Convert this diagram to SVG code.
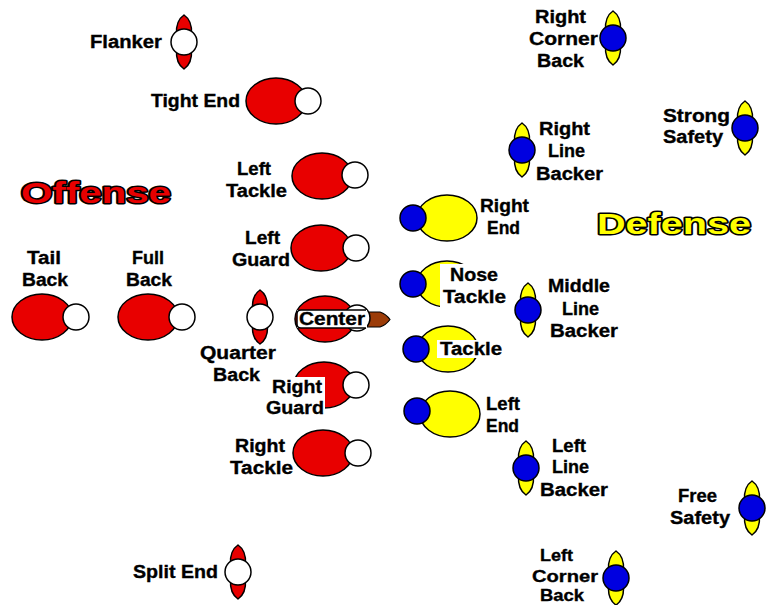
<svg xmlns="http://www.w3.org/2000/svg" xmlns:xlink="http://www.w3.org/1999/xlink" width="766" height="605" viewBox="0 0 766 605">
<style>
text{font-family:"Liberation Sans",Arial,sans-serif;font-weight:bold;font-size:18px;fill:#000;stroke:#000;stroke-width:0.35}
.t{font-size:30px;font-weight:900;stroke:#000;stroke-width:3;paint-order:stroke;stroke-linejoin:round}
.ro{fill:#e80000;stroke:#000;stroke-width:1.5}
.wc{fill:#fff;stroke:#000;stroke-width:1.5}
.yo{fill:#ffff00;stroke:#000;stroke-width:1.5}
.bc{fill:#0000e0;stroke:#000;stroke-width:1.5}
.lb{fill:#fff}
</style>
<defs>
<g id="ov">
<path class="ro" d="M0,-27 C6,-23 8,-17 7.5,-8 L-7.5,-8 C-8,-17 -6,-23 0,-27 Z"/>
<path class="ro" d="M0,27 C6,23 8,17 7.5,8 L-7.5,8 C-8,17 -6,23 0,27 Z"/>
<circle class="wc" r="13"/>
</g>
<g id="dv">
<path class="yo" d="M0,-27 C6,-23 8,-17 7.5,-8 L-7.5,-8 C-8,-17 -6,-23 0,-27 Z"/>
<path class="yo" d="M0,27 C6,23 8,17 7.5,8 L-7.5,8 C-8,17 -6,23 0,27 Z"/>
<circle class="bc" r="13"/>
</g>
</defs>
<rect width="766" height="605" fill="#fff"/>

<text class="t" x="21" y="203" textLength="150" lengthAdjust="spacingAndGlyphs" style="fill:#e80000">Offense</text>
<text class="t" x="597" y="234" textLength="154" lengthAdjust="spacingAndGlyphs" style="fill:#ffff00">Defense</text>

<g id="connectors"/>

<g id="flanker"><use xlink:href="#ov" x="184" y="42"/><text x="90" y="48" textLength="72" lengthAdjust="spacingAndGlyphs">Flanker</text></g>
<g id="tight-end"><ellipse class="ro" cx="276" cy="101" rx="30" ry="23"/><circle class="wc" cx="308" cy="101" r="13"/><text x="151" y="107" textLength="89" lengthAdjust="spacingAndGlyphs">Tight End</text></g>
<g id="left-tackle"><ellipse class="ro" cx="322" cy="176" rx="30" ry="23"/><circle class="wc" cx="355" cy="175" r="13"/><text x="237" y="175" textLength="34" lengthAdjust="spacingAndGlyphs">Left</text><text x="226" y="197" textLength="61" lengthAdjust="spacingAndGlyphs">Tackle</text></g>
<g id="left-guard"><ellipse class="ro" cx="321" cy="248" rx="30" ry="23"/><circle class="wc" cx="356" cy="248" r="13"/><text x="245" y="244" textLength="35" lengthAdjust="spacingAndGlyphs">Left</text><text x="232" y="266" textLength="58" lengthAdjust="spacingAndGlyphs">Guard</text></g>
<g id="tail-back"><ellipse class="ro" cx="42" cy="317" rx="30" ry="23"/><circle class="wc" cx="76" cy="317" r="13"/><text x="27" y="264" textLength="34" lengthAdjust="spacingAndGlyphs">Tail</text><text x="22" y="286" textLength="46" lengthAdjust="spacingAndGlyphs">Back</text></g>
<g id="full-back"><ellipse class="ro" cx="148" cy="317" rx="30" ry="23"/><circle class="wc" cx="182" cy="317" r="13"/><text x="132" y="264" textLength="32" lengthAdjust="spacingAndGlyphs">Full</text><text x="126" y="286" textLength="46" lengthAdjust="spacingAndGlyphs">Back</text></g>
<g id="quarter-back"><use xlink:href="#ov" x="260" y="317"/><text x="200" y="359" textLength="76" lengthAdjust="spacingAndGlyphs">Quarter</text><text x="213" y="381" textLength="47" lengthAdjust="spacingAndGlyphs">Back</text></g>
<g id="center"><ellipse class="ro" cx="325" cy="319" rx="30" ry="23"/><path d="M366,312 L380,312 Q386,314 390,319.5 Q386,325 380,327 L366,327 Z" fill="#9c3c08" stroke="#000" stroke-width="1.2"/><circle class="wc" cx="357" cy="318" r="13"/><rect class="lb" x="297" y="310" width="70" height="18"/><path d="M366,310 L301,310 Q297,310 297,314 L297,324 Q297,328 301,328 L366,328" fill="none" stroke="#000" stroke-width="1.5"/><text x="299" y="325" textLength="66" lengthAdjust="spacingAndGlyphs">Center</text></g>
<g id="right-guard"><ellipse class="ro" cx="324" cy="385" rx="30" ry="23"/><circle class="wc" cx="356" cy="385" r="13"/><rect class="lb" x="268" y="377" width="57" height="36"/><text x="272" y="393" textLength="50" lengthAdjust="spacingAndGlyphs">Right</text><text x="266" y="414" textLength="58" lengthAdjust="spacingAndGlyphs">Guard</text></g>
<g id="right-tackle"><ellipse class="ro" cx="323" cy="453" rx="30" ry="23"/><circle class="wc" cx="358" cy="453" r="13"/><text x="235" y="452" textLength="50" lengthAdjust="spacingAndGlyphs">Right</text><text x="230" y="474" textLength="63" lengthAdjust="spacingAndGlyphs">Tackle</text></g>
<g id="split-end"><use xlink:href="#ov" x="238" y="572"/><text x="133" y="578" textLength="85" lengthAdjust="spacingAndGlyphs">Split End</text></g>

<g id="right-corner-back"><use xlink:href="#dv" x="613" y="38"/><text x="535" y="23" textLength="51" lengthAdjust="spacingAndGlyphs">Right</text><text x="529" y="45" textLength="69" lengthAdjust="spacingAndGlyphs">Corner</text><text x="537" y="67" textLength="47" lengthAdjust="spacingAndGlyphs">Back</text></g>
<g id="strong-safety"><use xlink:href="#dv" x="745" y="128"/><text x="663" y="122" textLength="67" lengthAdjust="spacingAndGlyphs">Strong</text><text x="663" y="143" textLength="60" lengthAdjust="spacingAndGlyphs">Safety</text></g>
<g id="right-line-backer"><use xlink:href="#dv" x="522" y="150"/><text x="539" y="135" textLength="51" lengthAdjust="spacingAndGlyphs">Right</text><text x="548" y="157" textLength="37" lengthAdjust="spacingAndGlyphs">Line</text><text x="536" y="180" textLength="67" lengthAdjust="spacingAndGlyphs">Backer</text></g>
<g id="right-end"><ellipse class="yo" cx="447" cy="218" rx="30" ry="23"/><circle class="bc" cx="413" cy="218" r="13"/><text x="480" y="212" textLength="49" lengthAdjust="spacingAndGlyphs">Right</text><text x="487" y="234" textLength="33" lengthAdjust="spacingAndGlyphs">End</text></g>
<g id="nose-tackle"><ellipse class="yo" cx="447" cy="284" rx="30" ry="23"/><circle class="bc" cx="413" cy="284" r="13"/><rect class="lb" x="440" y="264" width="68" height="45"/><text x="450" y="281" textLength="48" lengthAdjust="spacingAndGlyphs">Nose</text><text x="443" y="303" textLength="63" lengthAdjust="spacingAndGlyphs">Tackle</text></g>
<g id="tackle"><ellipse class="yo" cx="448" cy="349" rx="30" ry="23"/><circle class="bc" cx="416" cy="349" r="13"/><rect class="lb" x="437" y="340" width="65" height="18"/><text x="440" y="355" textLength="62" lengthAdjust="spacingAndGlyphs">Tackle</text></g>
<g id="middle-line-backer"><use xlink:href="#dv" x="528" y="310"/><text x="548" y="292" textLength="62" lengthAdjust="spacingAndGlyphs">Middle</text><text x="562" y="315" textLength="37" lengthAdjust="spacingAndGlyphs">Line</text><text x="550" y="337" textLength="68" lengthAdjust="spacingAndGlyphs">Backer</text></g>
<g id="left-end"><ellipse class="yo" cx="450" cy="414" rx="30" ry="23"/><circle class="bc" cx="417" cy="411" r="13"/><text x="486" y="410" textLength="34" lengthAdjust="spacingAndGlyphs">Left</text><text x="486" y="432" textLength="33" lengthAdjust="spacingAndGlyphs">End</text></g>
<g id="left-line-backer"><use xlink:href="#dv" x="526" y="468"/><text x="552" y="452" textLength="34" lengthAdjust="spacingAndGlyphs">Left</text><text x="552" y="473" textLength="37" lengthAdjust="spacingAndGlyphs">Line</text><text x="540" y="496" textLength="68" lengthAdjust="spacingAndGlyphs">Backer</text></g>
<g id="free-safety"><use xlink:href="#dv" x="752" y="508"/><text x="678" y="502" textLength="39" lengthAdjust="spacingAndGlyphs">Free</text><text x="670" y="524" textLength="60" lengthAdjust="spacingAndGlyphs">Safety</text></g>
<g id="left-corner-back"><use xlink:href="#dv" x="616" y="578"/><text x="540" y="561" textLength="33" lengthAdjust="spacingAndGlyphs" style="font-size:17px">Left</text><text x="532" y="582" textLength="66" lengthAdjust="spacingAndGlyphs" style="font-size:17px">Corner</text><text x="540" y="601" textLength="44" lengthAdjust="spacingAndGlyphs" style="font-size:16px">Back</text></g>
</svg>
